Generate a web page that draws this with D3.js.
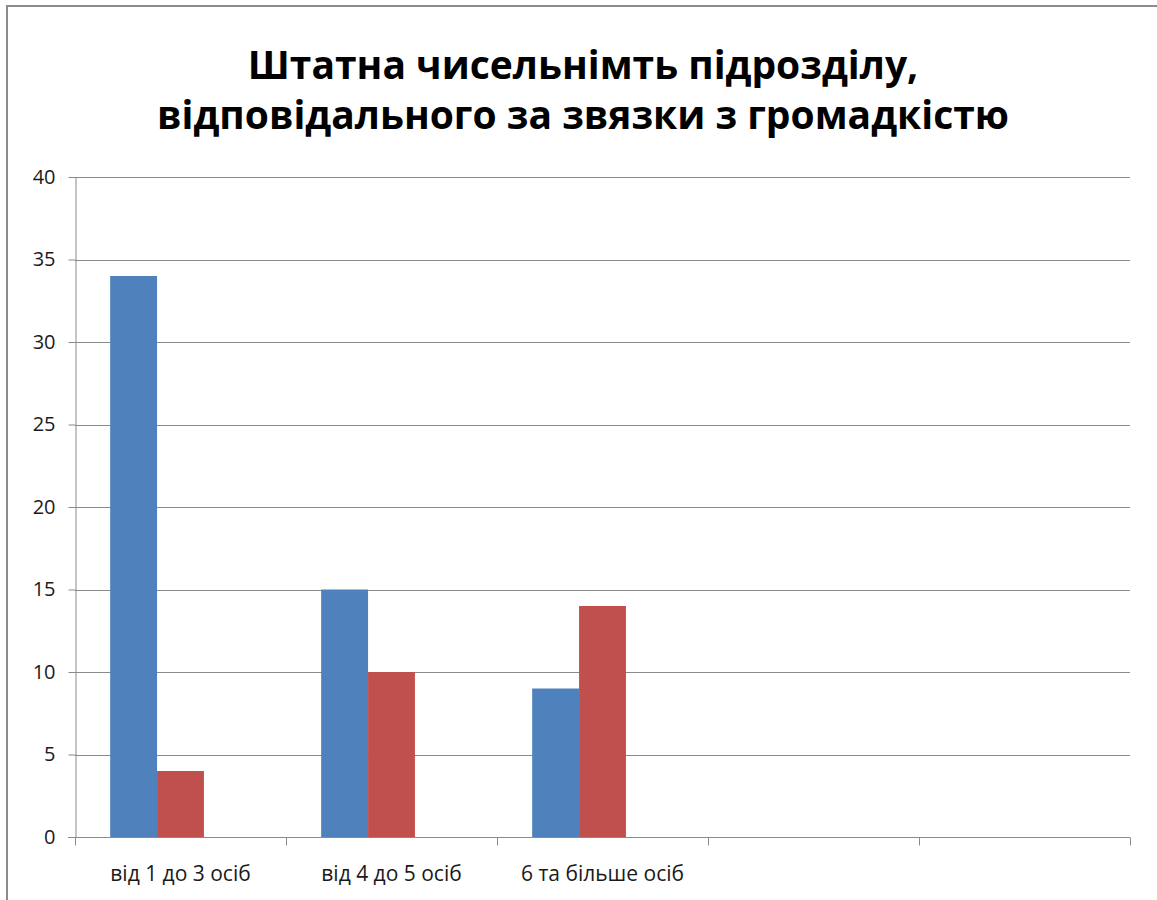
<!DOCTYPE html>
<html>
<head>
<meta charset="utf-8">
<script src="https://cdn.jsdelivr.net/npm/d3@7"></script>
<style>
  html, body { margin: 0; padding: 0; background: #fff; }
  svg { display: block; }
</style>
</head>
<body>
<svg id="chart" width="1157" height="900"></svg>
<script>
// Chart data
const categories = ["від 1 до 3 осіб", "від 4 до 5 осіб", "6 та більше осіб", "", ""];
const series1 = [34, 15, 9, null, null];
const series2 = [4, 10, 14, null, null];
const series3 = [null, null, null, null, null];
const yTicks = [0, 5, 10, 15, 20, 25, 30, 35, 40];
const titleLines = ["Штатна чисельнімть підрозділу,", "відповідального за звязки з громадкістю"];

const seriesList = [
  { key: "s1", values: series1, color: "#4F81BD" },
  { key: "s2", values: series2, color: "#C0504D" },
  { key: "s3", values: series3, color: "#9BBB59" }
];

const svg = d3.select("#chart");
const plot = { left: 75, right: 1130, top: 177, bottom: 837 };
const labelFont = "'Open Sans', 'Noto Sans', sans-serif";

// Outer chart frame
svg.append("rect")
  .attr("x", 7).attr("y", 6)
  .attr("width", 1170).attr("height", 920)
  .attr("fill", "#fff")
  .attr("stroke", "#8c8c8c").attr("stroke-width", 2);

// Title
const title = svg.append("text")
  .attr("text-anchor", "middle")
  .attr("font-family", labelFont)
  .attr("font-weight", "bold")
  .attr("font-size", 39)
  .attr("fill", "#000");
title.selectAll("tspan").data(titleLines).enter().append("tspan")
  .attr("x", 583)
  .attr("y", (d, i) => 79 + i * 50)
  .text(d => d);

// Scales
const x0 = d3.scaleBand()
  .domain(d3.range(categories.length))
  .range([plot.left, plot.right])
  .paddingInner(0).paddingOuter(0);

const x1 = d3.scaleBand()
  .domain(seriesList.map(s => s.key))
  .range([0, x0.bandwidth()])
  .paddingInner(0)
  .paddingOuter(0.75);

const y = d3.scaleLinear().domain([0, 40]).range([plot.bottom, plot.top]);

// Horizontal gridlines
svg.append("g").selectAll("line").data(yTicks.filter(v => v > 0)).enter().append("line")
  .attr("x1", plot.left).attr("x2", plot.right)
  .attr("y1", d => Math.round(y(d)) + 0.5).attr("y2", d => Math.round(y(d)) + 0.5)
  .attr("stroke", "#8a8a8a").attr("stroke-width", 1);

// Bars
const groups = svg.append("g").selectAll("g").data(seriesList).enter().append("g")
  .attr("fill", d => d.color);
groups.selectAll("rect")
  .data(s => s.values.map((v, i) => ({ v, i, key: s.key })).filter(d => d.v != null))
  .enter().append("rect")
  .attr("x", d => x0(d.i) + x1(d.key))
  .attr("width", x1.bandwidth())
  .attr("y", d => y(d.v))
  .attr("height", d => y(0) - y(d.v));

// Y axis
const yAxis = svg.append("g")
  .attr("transform", `translate(${plot.left + 0.5},0)`)
  .call(d3.axisLeft(y).tickValues(yTicks).tickSize(7).tickPadding(13).tickSizeOuter(0));
yAxis.select(".domain").attr("stroke", "#8a8a8a");
yAxis.selectAll(".tick line").attr("stroke", "#8a8a8a");
yAxis.selectAll(".tick text")
  .attr("font-family", labelFont)
  .attr("font-size", 20).attr("fill", "#1a1a1a");

// X axis (category boundaries as ticks)
const xAxisG = svg.append("g").attr("transform", `translate(0,${plot.bottom + 0.5})`);
xAxisG.append("line")
  .attr("x1", plot.left - 7).attr("x2", plot.right)
  .attr("stroke", "#8a8a8a");
xAxisG.selectAll("line.tick").data(d3.range(categories.length + 1)).enter().append("line")
  .attr("class", "tick")
  .attr("x1", i => Math.round(i < categories.length ? x0(i) : plot.right) + 0.5)
  .attr("x2", i => Math.round(i < categories.length ? x0(i) : plot.right) + 0.5)
  .attr("y1", 0).attr("y2", 8)
  .attr("stroke", "#8a8a8a");
xAxisG.selectAll("text").data(categories).enter().append("text")
  .attr("x", (d, i) => x0(i) + x0.bandwidth() / 2)
  .attr("y", 43)
  .attr("text-anchor", "middle")
  .attr("font-family", labelFont)
  .attr("font-size", 21).attr("fill", "#1a1a1a")
  .text(d => d);
</script>
</body>
</html>
